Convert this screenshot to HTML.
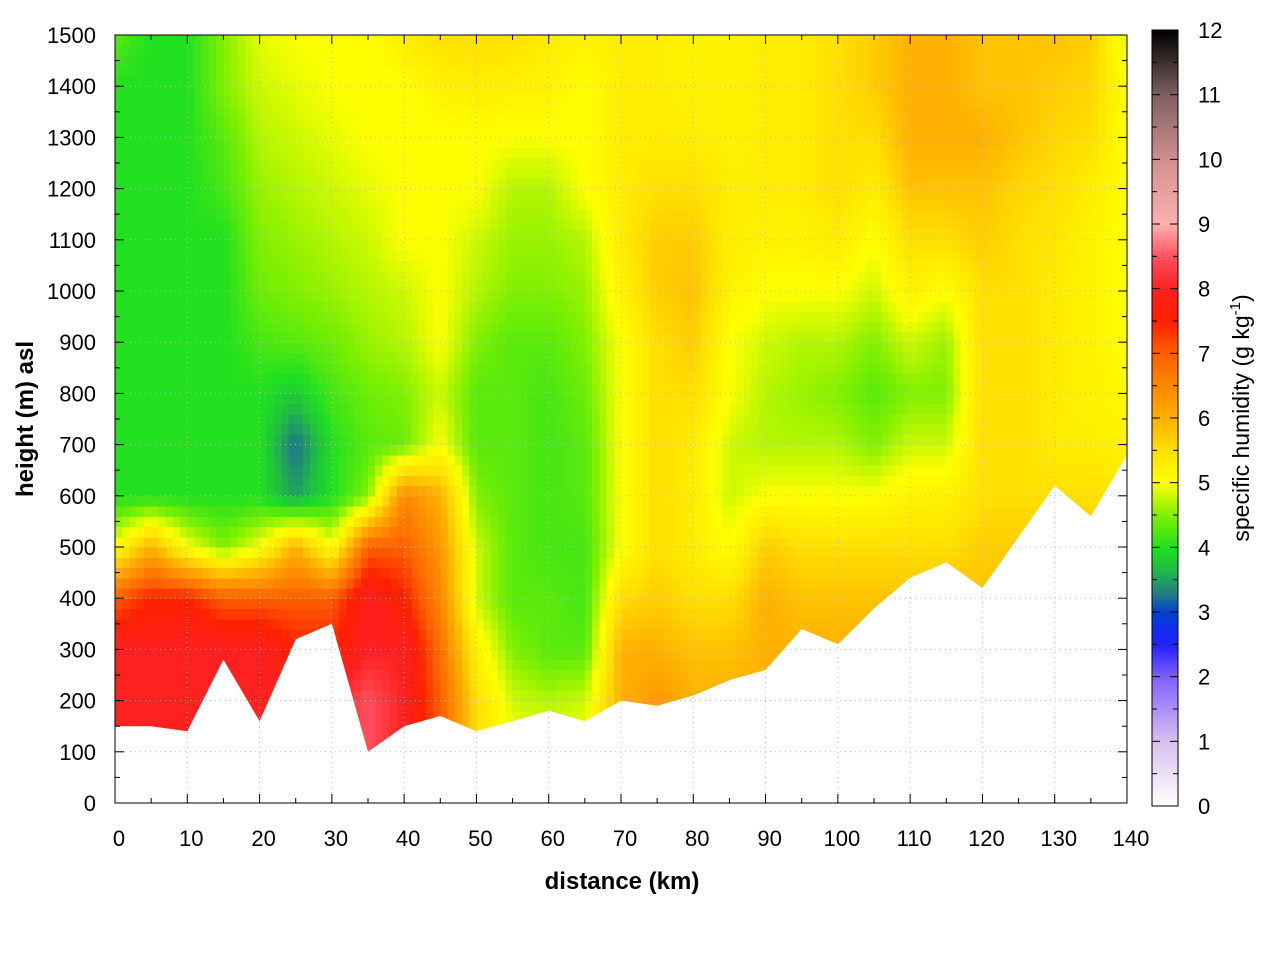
<!DOCTYPE html>
<html><head><meta charset="utf-8"><style>
body{margin:0;background:#fff;}
svg{display:block;font-family:"Liberation Sans",sans-serif;}
</style></head><body>
<svg id="chart" width="1280" height="960" viewBox="0 0 1280 960" xmlns="http://www.w3.org/2000/svg">
<rect width="1280" height="960" fill="#fff"/>
<defs><clipPath id="terrainClip"><polygon id="clipPoly" points=""/></clipPath></defs>
<g id="cells" clip-path="url(#terrainClip)" shape-rendering="crispEdges"></g>
<g id="grid"></g>
<g id="axes"></g>
<g id="cbar"></g>
<text x="622" y="889" text-anchor="middle" font-size="24" font-weight="bold">distance (km)</text>
<text transform="translate(33,419) rotate(-90)" text-anchor="middle" font-size="24" font-weight="bold">height (m) asl</text>
<text transform="translate(1249,418) rotate(-90)" text-anchor="middle" font-size="23">specific humidity (g kg<tspan dy="-9" font-size="15">-1</tspan><tspan dy="9">)</tspan></text>
</svg>
<script>
const distances=[0,5,10,15,20,25,30,35,40,45,50,55,60,65,70,75,80,85,90,95,100,105,110,115,120,125,130,135,140];
const heights=[100,200,300,400,500,600,700,800,900,1000,1100,1200,1300,1400,1500];
const groundHeight=[150,150,140,280,160,320,350,100,150,170,140,160,180,160,200,190,210,240,260,340,310,380,440,470,420,520,620,560,680];
const humidity=[
[8,8,8,7,5,4,4,4,4,4,4,4,4,4,4.3],
[8,8,8,7.5,6,4,4,4,4,4,4,4,4,4,4],
[8,8,8,7.5,5,4,4,4,4,4,4,4,4,4,4],
[8,8,8,7,4.5,4,4,4,4,4,4,4.2,4.3,4.5,4.5],
[8,8,8,7,5,4,4,4,4.2,4.4,4.5,4.6,4.7,4.8,4.9],
[8,8,7.5,7,6,3.5,3.2,3.8,4.3,4.5,4.6,4.7,4.8,4.9,5],
[8,8,7.5,7,5,4,4,4.2,4.4,4.6,4.7,4.8,4.9,5,5],
[8.5,8.5,8,8,7,4.5,4.3,4.4,4.6,4.7,4.8,4.9,5,5,5],
[8,8,8,7.5,7,6.5,4.4,4.5,4.7,4.8,5,5,5,5,5.3],
[7,7,6.8,6.5,6.3,6,5,4.8,5,5,5,5,5,5.2,5.5],
[5.5,5.5,5.2,4.8,4.8,4.5,4.3,4.3,4.5,4.7,4.8,5,5,5.3,5.5],
[5,4.8,4.5,4.3,4.3,4.3,4.3,4.3,4.3,4.5,4.6,4.7,5,5.2,5.5],
[5,4.7,4.3,4.3,4.2,4.2,4.2,4.2,4.3,4.5,4.6,4.7,5,5.2,5.3],
[5,4.8,4.3,4.2,4.2,4.3,4.3,4.4,4.5,4.6,4.7,5,5,5,5.2],
[6,6,6,5.5,5,5,5,5,5,5.2,5.3,5.3,5.3,5.3,5.3],
[6.3,6.3,6,5.7,5.5,5.5,5.5,5.5,5.5,5.7,5.7,5.5,5.3,5.3,5.3],
[6,6,5.8,5.5,5.3,5.3,5.3,5.5,5.7,5.8,5.7,5.5,5.3,5.2,5.2],
[6,6,5.8,5.5,5,4.8,4.8,5,5,5.2,5.3,5.3,5.2,5.2,5.2],
[6,6,6,6,5.7,5,4.7,4.7,4.8,5,5.2,5.3,5.3,5.3,5.3],
[6,6,6,5.8,5.5,5,4.7,4.6,4.7,5,5.2,5.3,5.3,5.3,5.3],
[6,6,6,5.8,5.5,5,4.7,4.5,4.7,5,5.3,5.5,5.5,5.5,5.5],
[6,6,6,5.8,5.5,5,4.5,4.3,4.5,4.8,5,5.3,5.5,5.7,5.7],
[6,6,6,5.8,5.5,5.2,4.8,4.5,4.8,5.2,5.5,5.8,6,6,6],
[6,6,6,5.8,5.5,5.2,4.8,4.5,4.6,5,5.5,5.8,6,6,6],
[6,6,6,5.8,5.7,5.5,5.5,5.5,5.5,5.5,5.7,5.8,6,5.8,5.8],
[6,6,6,5.8,5.7,5.5,5.5,5.5,5.5,5.5,5.5,5.6,5.8,5.8,5.8],
[6,6,6,5.8,5.7,5.5,5.3,5.3,5.3,5.3,5.4,5.5,5.6,5.7,5.8],
[6,6,6,5.8,5.7,5.5,5.3,5.2,5.2,5.2,5.2,5.3,5.5,5.6,5.7],
[6,6,6,5.8,5.5,5.3,5.2,5.1,5,5,5,5,5,5,4.8]
];
const xTicks=[0,10,20,30,40,50,60,70,80,90,100,110,120,130,140];
const yTicks=[0,100,200,300,400,500,600,700,800,900,1000,1100,1200,1300,1400,1500];
const cbTicks=[0,1,2,3,4,5,6,7,8,9,10,11,12];

const X0=115,X1=1127,Y0=803,Y1=35;
const xs=d=>X0+(d/140)*(X1-X0);
const ys=h=>Y0-(h/1500)*(Y0-Y1);
const stops=[[0,[255,255,255]],[1,[216,192,240]],[2,[128,96,255]],[2.5,[32,32,255]],[3,[0,64,208]],[3.3,[32,128,128]],[3.7,[32,192,64]],[4,[32,224,32]],[4.5,[128,240,0]],[5,[255,255,0]],[5.5,[255,224,0]],[6,[255,176,0]],[7,[255,96,0]],[7.5,[255,32,0]],[8,[255,32,32]],[8.5,[255,80,96]],[9,[255,176,176]],[10,[208,144,144]],[11,[128,96,96]],[12,[0,0,0]]];
function color(v){
  v=Math.max(0,Math.min(12,v));
  for(let i=0;i<stops.length-1;i++){const a=stops[i],b=stops[i+1];
    if(v<=b[0]){const t=(v-a[0])/(b[0]-a[0]);const c=a[1].map((x,k)=>Math.round(x+(b[1][k]-x)*t));return `rgb(${c})`;}}
  return 'rgb(0,0,0)';
}
const NS='http://www.w3.org/2000/svg';
function el(tag,attrs,parent){const e=document.createElementNS(NS,tag);for(const k in attrs)e.setAttribute(k,attrs[k]);parent.appendChild(e);return e;}

let pts=distances.map((d,i)=>xs(d).toFixed(1)+','+ys(groundHeight[i]).toFixed(1));
pts.push(xs(140)+','+ys(1500),xs(0)+','+ys(1500));
document.getElementById('clipPoly').setAttribute('points',pts.join(' '));

function sample(d,h){
  let i=Math.min(distances.length-2,Math.floor(d/5)); let tx=(d-distances[i])/5;
  let hh=Math.max(100,Math.min(1500,h));
  let j=Math.min(heights.length-2,Math.floor((hh-100)/100)); let ty=(hh-heights[j])/100;
  const a=humidity[i][j],b=humidity[i+1][j],c=humidity[i][j+1],e=humidity[i+1][j+1];
  return a*(1-tx)*(1-ty)+b*tx*(1-ty)+c*(1-tx)*ty+e*tx*ty;
}
const cells=document.getElementById('cells');
const DX=1,DH=20;
for(let d=0;d<140;d+=DX){
  for(let h=0;h<1500;h+=DH){
    const xa=xs(d),xb=xs(d+DX),ya=ys(h+DH),yb=ys(h);
    const r=el('rect',{x:xa.toFixed(2),y:ya.toFixed(2),width:(xb-xa+0.6).toFixed(2),height:(yb-ya+0.6).toFixed(2),fill:color(sample(d+DX/2,h+DH/2))},cells);
    
    
  }
}

const grid=document.getElementById('grid');
xTicks.forEach(t=>{if(t>0&&t<140){const l=el('line',{x1:xs(t),x2:xs(t),y1:Y0,y2:Y1,stroke:'#bbb','stroke-width':1,'stroke-dasharray':'1,4'},grid);}});
yTicks.forEach(t=>{if(t>0&&t<1500){const l=el('line',{x1:X0,x2:X1,y1:ys(t),y2:ys(t),stroke:'#bbb','stroke-width':1,'stroke-dasharray':'1,4'},grid);}});

const axes=document.getElementById('axes');
el('rect',{x:X0,y:Y1,width:X1-X0,height:Y0-Y1,fill:'none',stroke:'#000','stroke-width':1},axes);
for(let k=0;k<=140;k+=5){const len=k%10===0?9:5;
  el('line',{x1:xs(k),x2:xs(k),y1:Y0,y2:Y0-len,stroke:'#000'},axes);
  el('line',{x1:xs(k),x2:xs(k),y1:Y1,y2:Y1+len,stroke:'#000'},axes);}
for(let k=0;k<=1500;k+=50){const len=k%100===0?9:5;
  el('line',{x1:X0,x2:X0+len,y1:ys(k),y2:ys(k),stroke:'#000'},axes);
  el('line',{x1:X1,x2:X1-len,y1:ys(k),y2:ys(k),stroke:'#000'},axes);}
xTicks.forEach(t=>{const e=el('text',{x:xs(t)+4,y:846,'text-anchor':'middle','font-size':22},axes);e.textContent=t;});
yTicks.forEach(t=>{const e=el('text',{x:96,y:ys(t)+8,'text-anchor':'end','font-size':22},axes);e.textContent=t;});

const cb=document.getElementById('cbar');
const CX=1152,CW=26,CT=30,CB=806;
const cy=v=>CB-(v/12)*(CB-CT);
for(let v=0;v<12;v+=0.05){el('rect',{x:CX,y:cy(v+0.05),width:CW,height:(CB-CT)/240+0.6,fill:color(v+0.025)},cb);}
el('rect',{x:CX,y:CT,width:CW,height:CB-CT,fill:'none',stroke:'#000'},cb);
for(let v=0;v<=12;v+=0.5){const len=v%1===0?8:5;
  el('line',{x1:CX,x2:CX+len,y1:cy(v),y2:cy(v),stroke:'#000'},cb);
  el('line',{x1:CX+CW,x2:CX+CW-len,y1:cy(v),y2:cy(v),stroke:'#000'},cb);}
cbTicks.forEach(t=>{const e=el('text',{x:1198,y:cy(t)+8,'font-size':22},cb);e.textContent=t;});
</script>
</body></html>
